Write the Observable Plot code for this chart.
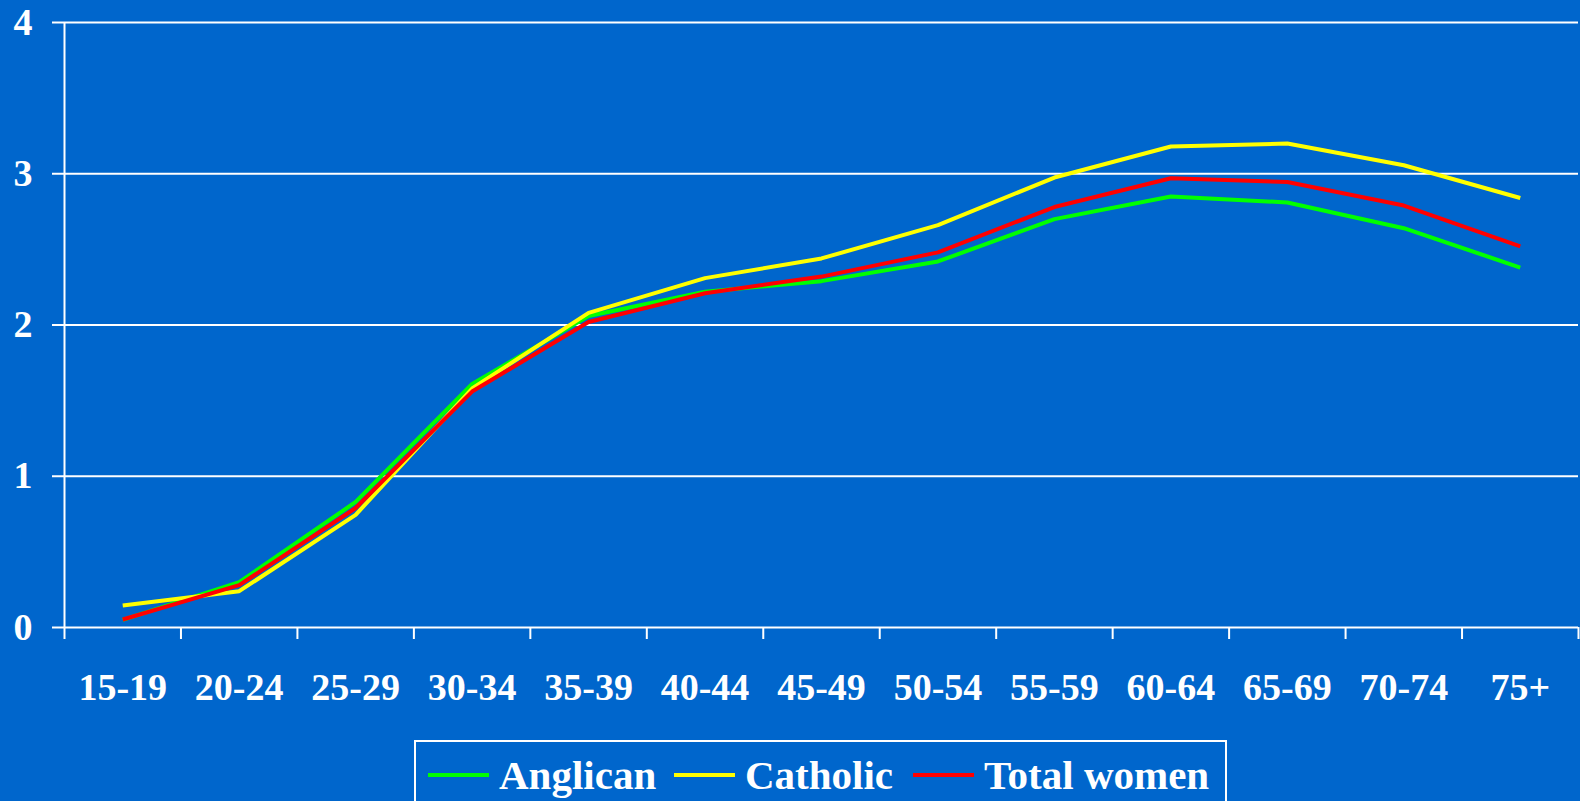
<!DOCTYPE html>
<html>
<head>
<meta charset="utf-8">
<script src="https://cdn.jsdelivr.net/npm/d3@7"></script>
<script src="https://cdn.jsdelivr.net/npm/@observablehq/plot@0.6"></script>
<style>
  html, body { margin: 0; padding: 0; background: #0066CC; overflow: hidden; }
  #wrap { position: relative; width: 1580px; height: 801px; background: #0066CC; }
  #chart { position: absolute; left: 0; top: 0; }
  #legend {
    position: absolute; left: 414px; top: 740px; width: 813px; height: 80px;
    border: 2px solid white; box-sizing: border-box;
    font-family: "Liberation Serif", "Times New Roman", serif; font-weight: bold;
    font-size: 41px; color: white; white-space: nowrap;
  }
  #legend .item { position: absolute; top: 8px; height: 50px; display: flex; align-items: center; }
  #legend .sw { display: inline-block; width: 61px; height: 4px; margin-right: 10px; }
</style>
</head>
<body>
<div id="wrap">
  <div id="chart"></div>
  <div id="legend"></div>
</div>
<script>
const categories = ["15-19","20-24","25-29","30-34","35-39","40-44","45-49","50-54","55-59","60-64","65-69","70-74","75+"];
const anglican   = [0.05, 0.30, 0.83, 1.61, 2.06, 2.22, 2.29, 2.42, 2.70, 2.85, 2.81, 2.64, 2.38];
const catholic   = [0.145,0.24, 0.745,1.58, 2.08, 2.31, 2.44, 2.66, 2.975,3.18, 3.20, 3.056,2.84];
const totalWomen = [0.053,0.28, 0.79, 1.56, 2.02, 2.21, 2.32, 2.48, 2.78, 2.97, 2.946,2.79, 2.52];
const seriesNames = ["Anglican", "Catholic", "Total women"];
const seriesColors = ["#00FF00", "#FFFF00", "#FF0000"];
const yTicks = [0, 1, 2, 3, 4];

const seriesValues = [anglican, catholic, totalWomen];
const rows = [];
seriesNames.forEach((name, s) => {
  seriesValues[s].forEach((v, i) => rows.push({series: name, i, value: v}));
});
const idx = categories.map((_, i) => i);
const bounds = categories.map((_, i) => i - 0.5).concat([categories.length - 0.5]);

const chart = Plot.plot({
  width: 1580,
  height: 730,
  marginLeft: 64,
  marginRight: 2,
  marginTop: 22,
  marginBottom: 103,
  style: {
    background: "transparent",
    color: "white",
    fontFamily: "'Liberation Serif', 'Times New Roman', serif",
    fontWeight: "bold",
    fontSize: "38px"
  },
  x: {type: "linear", domain: [-0.5, categories.length - 0.5]},
  y: {domain: [0, 4]},
  color: {domain: seriesNames, range: seriesColors},
  marks: [
    Plot.gridY(yTicks.filter(d => d > 0), {stroke: "white", strokeOpacity: 1, strokeWidth: 2}),
    Plot.axisY({ticks: yTicks, tickSize: 12, tickPadding: 20, stroke: "white", strokeWidth: 2, tickFormat: d => String(d), label: null}),
    Plot.ruleX([-0.5], {stroke: "white", strokeWidth: 2}),
    Plot.ruleY([0], {stroke: "white", strokeWidth: 2}),
    Plot.axisX({ticks: bounds, tickSize: 12, stroke: "white", strokeWidth: 2, tickFormat: () => "", label: null}),
    Plot.axisX({ticks: idx, tickSize: 0, tickPadding: 46, tickFormat: i => categories[i], label: null}),
    Plot.line(rows, {x: "i", y: "value", z: "series", stroke: "series", strokeWidth: 4, strokeLinejoin: "miter", strokeLinecap: "butt"})
  ]
});
document.getElementById("chart").appendChild(chart);

const legend = document.getElementById("legend");
const lefts = [12, 258, 497];
seriesNames.forEach((name, s) => {
  const item = document.createElement("div");
  item.className = "item";
  item.style.left = lefts[s] + "px";
  const sw = document.createElement("span");
  sw.className = "sw";
  sw.style.background = seriesColors[s];
  item.appendChild(sw);
  item.appendChild(document.createTextNode(name));
  legend.appendChild(item);
});
</script>
</body>
</html>
